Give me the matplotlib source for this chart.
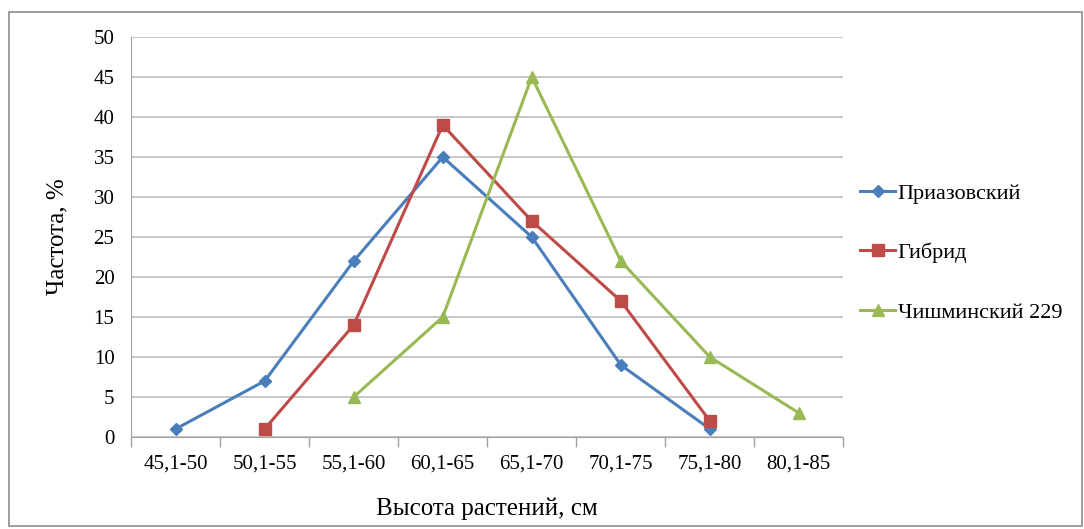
import matplotlib.pyplot as plt
from matplotlib.patches import Rectangle

plt.rcParams['font.family'] = ['Liberation Serif', 'DejaVu Serif']

categories = ['45,1-50', '50,1-55', '55,1-60', '60,1-65', '65,1-70', '70,1-75', '75,1-80', '80,1-85']

priazovsky = [1, 7, 22, 35, 25, 9, 1]        # from 45,1-50
gibrid = [1, 14, 39, 27, 17, 2]              # from 50,1-55
chishminsky = [5, 15, 45, 22, 10, 3]         # from 55,1-60

names = ['Приазовский', 'Гибрид', 'Чишминский 229']
colors = ['#4A7EBB', '#BE4B48', '#98B954']
markers = ['D', 's', '^']
starts = [0, 1, 2]

fig = plt.figure(figsize=(10.84, 5.29), dpi=100)
ax = fig.add_axes([0.121, 0.174, 0.657, 0.756])

series = [priazovsky, gibrid, chishminsky]
msizes = [6.5, 8, 8]
for vals, name, c, m, s, ms in zip(series, names, colors, markers, starts, msizes):
    xs = list(range(s, s + len(vals)))
    ax.plot(xs, vals, color=c, lw=2.2, marker=m, markersize=ms, label=name,
            markerfacecolor=c, markeredgecolor=c)

ax.set_xlim(-0.5, len(categories) - 0.5)
ax.set_ylim(0, 50)
ax.set_yticks(range(0, 51, 5))
ax.yaxis.grid(True, color='#BFBFBF', lw=1.2)
ax.set_axisbelow(True)

ax.set_xticks(range(len(categories)))
ax.set_xticklabels(categories, fontsize=15)
ax.tick_params(axis='x', length=0, pad=13)
ax.set_xticks([i + 0.5 for i in range(-1, len(categories))], minor=True)
ax.tick_params(axis='x', which='minor', length=7, color='#A0A0A0', width=1)
ax.tick_params(axis='y', length=0, labelsize=15, pad=12)

for sp in ['top', 'right']:
    ax.spines[sp].set_visible(False)
ax.spines['left'].set_color('#A0A0A0')
ax.spines['bottom'].set_color('#A0A0A0')

ax.set_xlabel('Высота растений, см', fontsize=18, labelpad=17)
ax.set_ylabel('Частота, %', fontsize=18, labelpad=18)

ax.legend(loc='center left', bbox_to_anchor=(0.995, 0.46), frameon=False,
          fontsize=16, handlelength=1.6, handletextpad=0.1, labelspacing=1.75)

fig.patches.append(Rectangle((0.008, 0.006), 0.99, 0.972, transform=fig.transFigure,
                             fill=False, edgecolor='#8C8C8C', lw=1.2))

fig.savefig('out.png', dpi=100)
